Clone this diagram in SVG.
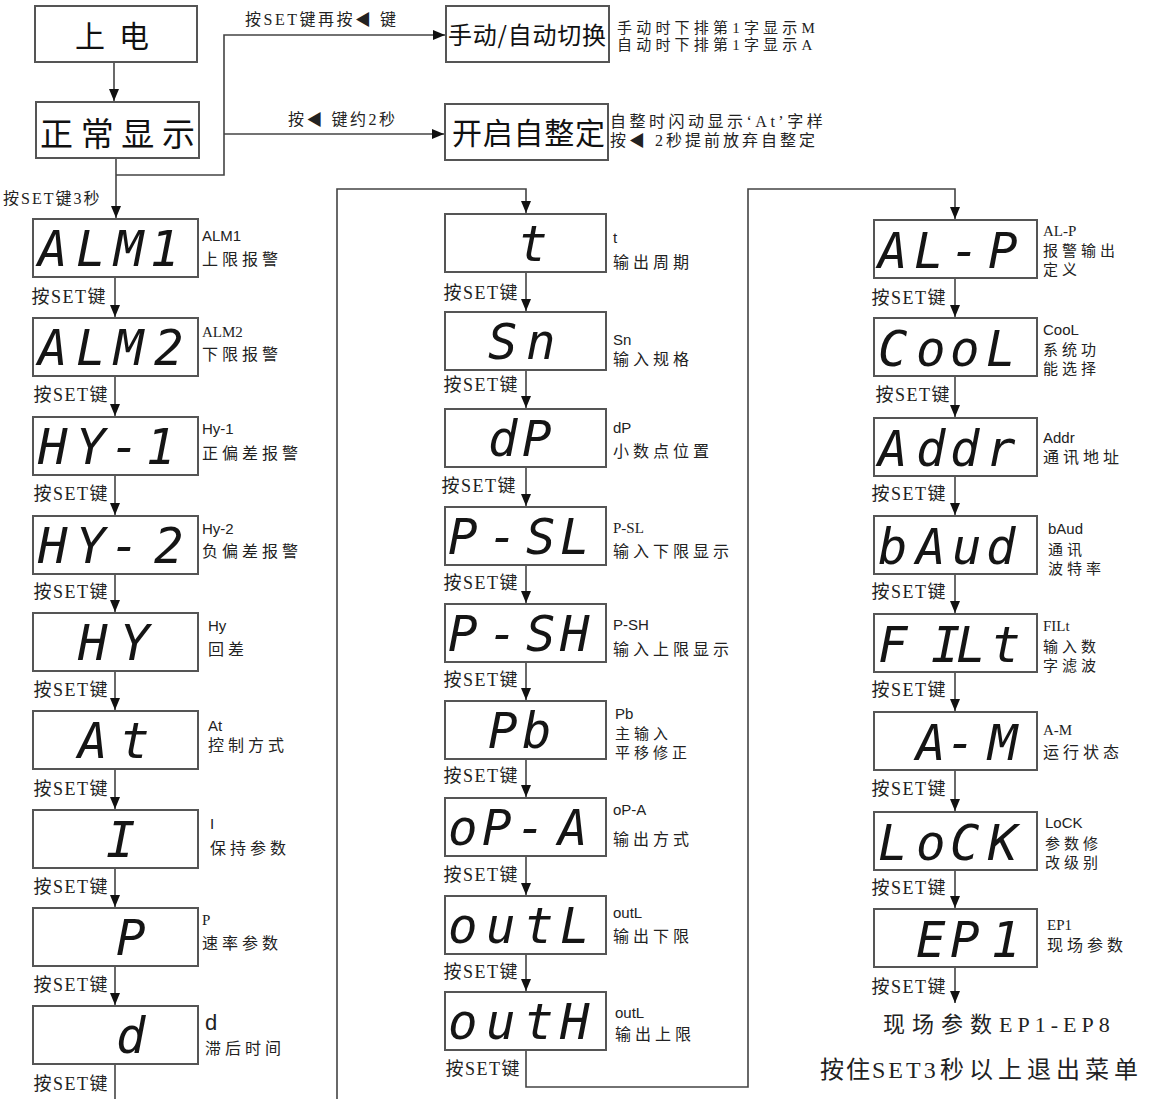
<svg xmlns="http://www.w3.org/2000/svg" width="1155" height="1099" viewBox="0 0 1155 1099">
<defs>
<marker id="ah" viewBox="0 0 12 10" markerWidth="12" markerHeight="10" refX="12" refY="5" orient="auto" markerUnits="userSpaceOnUse">
<path d="M0,0 L12,5 L0,10 z" fill="#111"/>
</marker>
<style>
.box{fill:#fff;stroke:#555;stroke-width:2}
.seg{font-family:"DejaVu Sans Mono",monospace;font-style:oblique;font-size:49px;fill:#151515}
.big{font-family:"Noto Sans CJK SC",sans-serif;fill:#111}
.lbl{font-family:"Liberation Serif","Noto Sans CJK SC","DejaVu Sans",serif;font-size:17px;fill:#222}
.set{font-size:18px;letter-spacing:1.5px}
.cjk{font-family:"Noto Sans CJK SC",sans-serif;font-size:16px;letter-spacing:4px;fill:#222}
.c3{font-size:15px}
.lat{font-family:"Liberation Sans",sans-serif;font-size:15px;fill:#222}
.lats{font-family:"Liberation Serif",serif;font-size:15px;fill:#222}
.conn{stroke:#444;stroke-width:1.6;fill:none}
.arr{marker-end:url(#ah)}
</style>
</defs>
<rect width="1155" height="1099" fill="#fff"/>

<g id="connectors">
<path class="conn arr" d="M114,62 V101"/>
<path class="conn arr" d="M116,158 V218"/>
<path class="conn arr" d="M116,175 H224 V35 H445"/>
<path class="conn arr" d="M224,134 H444"/>
<path class="conn arr" d="M115,277 V317"/>
<path class="conn arr" d="M115,376 V416"/>
<path class="conn arr" d="M115,475 V515"/>
<path class="conn arr" d="M115,574 V612"/>
<path class="conn arr" d="M115,671 V710"/>
<path class="conn arr" d="M115,769 V809"/>
<path class="conn arr" d="M115,868 V907"/>
<path class="conn arr" d="M115,966 V1005"/>
<path class="conn" d="M115,1064 V1099"/>
<path class="conn arr" d="M337,1099 V189 H526 V213"/>
<path class="conn arr" d="M526,272 V311"/>
<path class="conn arr" d="M526,370 V408"/>
<path class="conn arr" d="M526,467 V506"/>
<path class="conn arr" d="M526,565 V603"/>
<path class="conn arr" d="M526,662 V700"/>
<path class="conn arr" d="M526,759 V797"/>
<path class="conn arr" d="M526,856 V895"/>
<path class="conn arr" d="M526,954 V991"/>
<path class="conn arr" d="M526,1050 V1087 H748 V189 H955 V219"/>
<path class="conn arr" d="M955,278 V317"/>
<path class="conn arr" d="M955,376 V417"/>
<path class="conn arr" d="M955,476 V515"/>
<path class="conn arr" d="M955,574 V613"/>
<path class="conn arr" d="M955,672 V711"/>
<path class="conn arr" d="M955,770 V811"/>
<path class="conn arr" d="M955,870 V908"/>
<path class="conn arr" d="M955,967 V1003"/>
</g>

<g id="conn-labels">
<text class="lbl" x="245" y="25" style="font-size:16px" letter-spacing="2.5">按SET键再按◀ 键</text>
<text class="lbl" x="288" y="125" style="font-size:16px" letter-spacing="2.5">按◀ 键约2秒</text>
<text class="lbl" x="3" y="204" style="font-size:16px" letter-spacing="2">按SET键3秒</text>
<g class="lbl set" text-anchor="end">
<text x="107" y="303">按SET键</text>
<text x="109" y="401">按SET键</text>
<text x="109" y="500">按SET键</text>
<text x="109" y="598">按SET键</text>
<text x="109" y="696">按SET键</text>
<text x="109" y="795">按SET键</text>
<text x="109" y="893">按SET键</text>
<text x="109" y="991">按SET键</text>
<text x="109" y="1090">按SET键</text>
<text x="519" y="299">按SET键</text>
<text x="519" y="391">按SET键</text>
<text x="517" y="492">按SET键</text>
<text x="519" y="589">按SET键</text>
<text x="519" y="686">按SET键</text>
<text x="519" y="782">按SET键</text>
<text x="519" y="881">按SET键</text>
<text x="519" y="978">按SET键</text>
<text x="521" y="1075">按SET键</text>
<text x="947" y="304">按SET键</text>
<text x="951" y="401">按SET键</text>
<text x="947" y="500">按SET键</text>
<text x="947" y="598">按SET键</text>
<text x="947" y="696">按SET键</text>
<text x="947" y="795">按SET键</text>
<text x="947" y="894">按SET键</text>
<text x="947" y="993">按SET键</text>
</g>
</g>

<g id="power-on">
<rect class="box" x="35" y="6" width="162" height="56"/>
<text class="big" x="75" y="47" font-size="30" letter-spacing="14">上电</text>
</g>
<g id="normal-display">
<rect class="box" x="36" y="102" width="163" height="56"/>
<text class="big" x="40" y="146" font-size="33" textLength="155">正常显示</text>
</g>
<g id="manual-auto">
<rect class="box" x="446" y="6" width="163" height="56"/>
<text class="big" x="448" y="44" font-size="24" textLength="158">手动/自动切换</text>
<text class="lbl" x="617" y="33" style="font-size:15px" letter-spacing="4.2">手动时下排第1字显示M</text>
<text class="lbl" x="617" y="50" style="font-size:15px" letter-spacing="4.2">自动时下排第1字显示A</text>
</g>
<g id="autotune">
<rect class="box" x="445" y="104" width="163" height="56"/>
<text class="big" x="452" y="144" font-size="30" textLength="153">开启自整定</text>
<text class="lbl" x="610" y="127" style="font-size:16px" letter-spacing="3.5">自整时闪动显示‘At’字样</text>
<text class="lbl" x="610" y="146" style="font-size:16px" letter-spacing="3">按◀ 2秒提前放弃自整定</text>
</g>

<!-- left column -->
<g id="alm1"><rect class="box" x="33" y="219" width="165" height="58"/>
<text class="seg" x="38 76 114 150" y="266">ALM1</text>
<text class="lat" x="202" y="241">ALM1</text><text class="cjk" x="202" y="265">上限报警</text></g>
<g id="alm2"><rect class="box" x="33" y="318" width="165" height="58"/>
<text class="seg" x="38 76 114 154" y="365">ALM2</text>
<text class="lats" x="202" y="337">ALM2</text><text class="cjk" x="202" y="360">下限报警</text></g>
<g id="hy1"><rect class="box" x="33" y="417" width="165" height="58"/>
<text class="seg" x="38 76 110 146" y="464">HY-1</text>
<text class="lat" x="202" y="434">Hy-1</text><text class="cjk" x="202" y="459">正偏差报警</text></g>
<g id="hy2"><rect class="box" x="33" y="516" width="165" height="58"/>
<text class="seg" x="38 76 110 154" y="563">HY-2</text>
<text class="lat" x="202" y="534">Hy-2</text><text class="cjk" x="202" y="557">负偏差报警</text></g>
<g id="hy"><rect class="box" x="33" y="613" width="165" height="58"/>
<text class="seg" x="78 120" y="660">HY</text>
<text class="lat" x="208" y="631">Hy</text><text class="cjk" x="208" y="655">回差</text></g>
<g id="at"><rect class="box" x="33" y="711" width="165" height="58"/>
<text class="seg" x="78 120" y="758">At</text>
<text class="lat" x="208" y="731">At</text><text class="cjk" x="208" y="751">控制方式</text></g>
<g id="i"><rect class="box" x="33" y="810" width="165" height="58"/>
<text class="seg" x="106" y="857">I</text>
<text class="lat" x="210" y="829">I</text><text class="cjk" x="210" y="854">保持参数</text></g>
<g id="p"><rect class="box" x="33" y="908" width="165" height="58"/>
<text class="seg" x="116" y="955">P</text>
<text class="lats" x="202" y="925">P</text><text class="cjk" x="202" y="949">速率参数</text></g>
<g id="d"><rect class="box" x="33" y="1006" width="165" height="58"/>
<text class="seg" x="116" y="1053">d</text>
<text class="lat" x="205" y="1030" style="font-size:22px">d</text><text class="cjk" x="205" y="1054">滞后时间</text></g>

<!-- middle column -->
<g id="t"><rect class="box" x="445" y="214" width="161" height="58"/>
<text class="seg" x="518" y="261">t</text>
<text class="lat" x="613" y="243">t</text><text class="cjk" x="613" y="268">输出周期</text></g>
<g id="sn"><rect class="box" x="445" y="312" width="161" height="58"/>
<text class="seg" x="488 526" y="359">Sn</text>
<text class="lat" x="613" y="345">Sn</text><text class="cjk" x="613" y="365">输入规格</text></g>
<g id="dp"><rect class="box" x="445" y="409" width="161" height="58"/>
<text class="seg" x="488 522" y="456">dP</text>
<text class="lat" x="613" y="433">dP</text><text class="cjk" x="613" y="457">小数点位置</text></g>
<g id="psl"><rect class="box" x="445" y="507" width="161" height="58"/>
<text class="seg" x="448 488 526 560" y="554">P-SL</text>
<text class="lats" x="613" y="533">P-SL</text><text class="cjk" x="613" y="557">输入下限显示</text></g>
<g id="psh"><rect class="box" x="445" y="604" width="161" height="58"/>
<text class="seg" x="448 488 526 560" y="651">P-SH</text>
<text class="lat" x="613" y="630">P-SH</text><text class="cjk" x="613" y="655">输入上限显示</text></g>
<g id="pb"><rect class="box" x="445" y="701" width="161" height="58"/>
<text class="seg" x="488 522" y="748">Pb</text>
<text class="lat" x="615" y="719">Pb</text><text class="cjk c3" x="615" y="739">主输入</text><text class="cjk c3" x="615" y="758">平移修正</text></g>
<g id="opa"><rect class="box" x="445" y="798" width="161" height="58"/>
<text class="seg" x="448 482 516 558" y="845">oP-A</text>
<text class="lat" x="613" y="815">oP-A</text><text class="cjk" x="613" y="845">输出方式</text></g>
<g id="outl"><rect class="box" x="445" y="896" width="161" height="58"/>
<text class="seg" x="448 486 524 560" y="943">outL</text>
<text class="lat" x="613" y="918">outL</text><text class="cjk" x="613" y="942">输出下限</text></g>
<g id="outh"><rect class="box" x="445" y="992" width="161" height="58"/>
<text class="seg" x="448 486 524 560" y="1039">outH</text>
<text class="lat" x="615" y="1018">outL</text><text class="cjk" x="615" y="1040">输出上限</text></g>

<!-- right column -->
<g id="alp"><rect class="box" x="874" y="220" width="163" height="58"/>
<text class="seg" x="878 914 950 988" y="268">AL-P</text>
<text class="lats" x="1043" y="236">AL-P</text><text class="cjk c3" x="1043" y="256">报警输出</text><text class="cjk c3" x="1043" y="275">定义</text></g>
<g id="cool"><rect class="box" x="874" y="318" width="163" height="58"/>
<text class="seg" x="878 916 950 986" y="366">CooL</text>
<text class="lat" x="1043" y="335">CooL</text><text class="cjk c3" x="1043" y="355">系统功</text><text class="cjk c3" x="1043" y="374">能选择</text></g>
<g id="addr"><rect class="box" x="874" y="418" width="163" height="58"/>
<text class="seg" x="878 916 950 986" y="466">Addr</text>
<text class="lat" x="1043" y="443">Addr</text><text class="cjk" x="1043" y="463">通讯地址</text></g>
<g id="baud"><rect class="box" x="874" y="516" width="163" height="58"/>
<text class="seg" x="878 916 952 986" y="564">bAud</text>
<text class="lat" x="1048" y="534">bAud</text><text class="cjk c3" x="1048" y="555">通讯</text><text class="cjk c3" x="1048" y="574">波特率</text></g>
<g id="filt"><rect class="box" x="874" y="614" width="163" height="58"/>
<text class="seg" x="878 931 956 991" y="662">FILt</text>
<text class="lats" x="1043" y="631">FILt</text><text class="cjk c3" x="1043" y="652">输入数</text><text class="cjk c3" x="1043" y="671">字滤波</text></g>
<g id="am"><rect class="box" x="874" y="712" width="163" height="58"/>
<text class="seg" x="916 946 988" y="760">A-M</text>
<text class="lats" x="1043" y="735">A-M</text><text class="cjk" x="1043" y="758">运行状态</text></g>
<g id="lock"><rect class="box" x="874" y="812" width="163" height="58"/>
<text class="seg" x="878 916 950 988" y="860">LoCK</text>
<text class="lat" x="1045" y="828">LoCK</text><text class="cjk c3" x="1045" y="849">参数修</text><text class="cjk c3" x="1045" y="868">改级别</text></g>
<g id="ep1"><rect class="box" x="874" y="909" width="163" height="58"/>
<text class="seg" x="916 950 991" y="957">EP1</text>
<text class="lats" x="1047" y="930">EP1</text><text class="cjk" x="1047" y="951">现场参数</text></g>

<g id="footer">
<text class="lbl" y="1032" style="font-size:22px"><tspan x="883" letter-spacing="7">现场参数</tspan><tspan x="999" letter-spacing="5">EP1-EP8</tspan></text>
<text class="lbl" y="1078" style="font-size:24px"><tspan x="820" letter-spacing="2">按住</tspan><tspan x="872" letter-spacing="3">SET3</tspan><tspan x="940" letter-spacing="5">秒以上退出菜单</tspan></text>
</g>
</svg>
